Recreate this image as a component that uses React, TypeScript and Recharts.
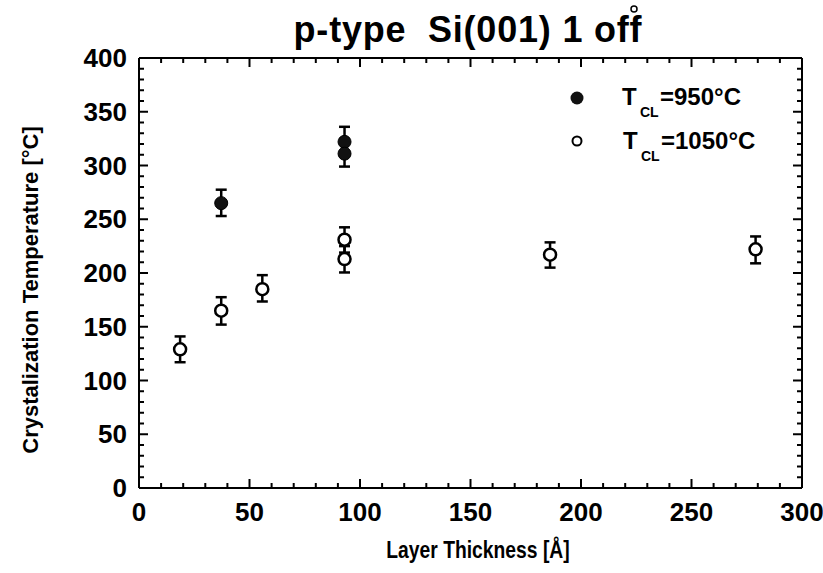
import { ScatterChart, Scatter, XAxis, YAxis, ErrorBar } from 'recharts';

// T_CL = 950 C (filled circles)
const thickness950 = [37.2, 93, 93];
const temp950 = [265, 322, 311];
const errLow950 = [12, 13, 12];
const errHigh950 = [12.5, 14, 13];

// T_CL = 1050 C (open circles)
const thickness1050 = [18.6, 37.2, 55.8, 93, 93, 186, 279];
const temp1050 = [129, 165, 185, 231, 213, 217, 222];
const errLow1050 = [12, 13, 11.5, 12, 12.5, 12, 13];
const errHigh1050 = [12, 12.5, 13, 11.5, 12, 11.5, 12];

const xTicks = Array.from({ length: 31 }, (_, i) => i * 10);
const yTicks = Array.from({ length: 41 }, (_, i) => i * 10);
const xMajor = [0, 50, 100, 150, 200, 250, 300];
const yMajor = [0, 50, 100, 150, 200, 250, 300, 350, 400];

const data950 = thickness950.map((x, i) => ({ x, y: temp950[i], err: [errLow950[i], errHigh950[i]] }));
const data1050 = thickness1050.map((x, i) => ({ x, y: temp1050[i], err: [errLow1050[i], errHigh1050[i]] }));

const FONT = '"Liberation Sans", Arial, Helvetica, sans-serif';
const tickFont = { fontFamily: FONT, fontWeight: 700, fontSize: 26, fill: '#000' };
const axisLine = { stroke: '#000', strokeWidth: 2 };

const BottomTick = (props: any) => {
  const { x, y, payload } = props;
  const major = xMajor.includes(payload.value);
  return (
    <g>
      <line x1={x} x2={x} y1={y} y2={y - (major ? 9 : 5)} stroke="#000" strokeWidth={2} />
      {major && <text x={x} y={y + 33} textAnchor="middle" style={tickFont}>{payload.value}</text>}
    </g>
  );
};

const TopTick = (props: any) => {
  const { x, y, payload } = props;
  const major = xMajor.includes(payload.value);
  return <line x1={x} x2={x} y1={y} y2={y + (major ? 9 : 5)} stroke="#000" strokeWidth={2} />;
};

const LeftTick = (props: any) => {
  const { x, y, payload } = props;
  const major = yMajor.includes(payload.value);
  return (
    <g>
      <line x1={x} x2={x + (major ? 9 : 5)} y1={y} y2={y} stroke="#000" strokeWidth={2} />
      {major && <text x={x - 12} y={y + 9} textAnchor="end" style={tickFont}>{payload.value}</text>}
    </g>
  );
};

const RightTick = (props: any) => {
  const { x, y, payload } = props;
  const major = yMajor.includes(payload.value);
  return <line x1={x} x2={x - (major ? 9 : 5)} y1={y} y2={y} stroke="#000" strokeWidth={2} />;
};

const FilledDot = (props: any) => <circle cx={props.cx} cy={props.cy} r={6.5} fill="#111" stroke="#000" strokeWidth={1} />;
const OpenDot = (props: any) => <circle cx={props.cx} cy={props.cy} r={6} fill="#fff" stroke="#000" strokeWidth={2.5} />;

export default function App() {
  return (
    <div style={{ position: 'absolute', left: 0, top: 0, width: 823, height: 573, background: '#fff' }}>
      <ScatterChart width={823} height={573} margin={{ top: 57, right: 20, bottom: 0, left: 0 }}>
        <XAxis xAxisId="b" type="number" dataKey="x" domain={[0, 300]} ticks={xTicks} interval={0}
          height={85} tickSize={0} tickMargin={0} tickLine={false} axisLine={axisLine} tick={<BottomTick />} allowDataOverflow />
        <XAxis xAxisId="t" orientation="top" type="number" dataKey="x" domain={[0, 300]} ticks={xTicks} interval={0}
          height={1} tickSize={0} tickMargin={0} tickLine={false} axisLine={axisLine} tick={<TopTick />} allowDataOverflow />
        <YAxis yAxisId="l" type="number" dataKey="y" domain={[0, 400]} ticks={yTicks} interval={0}
          width={139} tickSize={0} tickMargin={0} tickLine={false} axisLine={axisLine} tick={<LeftTick />} allowDataOverflow />
        <YAxis yAxisId="r" orientation="right" type="number" dataKey="y" domain={[0, 400]} ticks={yTicks} interval={0}
          width={1} tickSize={0} tickMargin={0} tickLine={false} axisLine={axisLine} tick={<RightTick />} allowDataOverflow />
        <Scatter name="TCL=1050°C" data={data1050} xAxisId="b" yAxisId="l" shape={<OpenDot />} isAnimationActive={false}>
          <ErrorBar dataKey="err" direction="y" width={5.5} strokeWidth={2.5} stroke="#000" />
        </Scatter>
        <Scatter name="TCL=950°C" data={data950} xAxisId="b" yAxisId="l" shape={<FilledDot />} isAnimationActive={false}>
          <ErrorBar dataKey="err" direction="y" width={5.5} strokeWidth={2.5} stroke="#000" />
        </Scatter>
      </ScatterChart>
      <svg width={823} height={573} style={{ position: 'absolute', left: 0, top: 0, pointerEvents: 'none' }}>
        <g style={{ fontFamily: FONT, fontWeight: 700, fill: '#000' }}>
          <text x={468} y={42} textAnchor="middle" fontSize={36} letterSpacing={0.8}>{'p-type\u00a0\u00a0Si(001) 1 off'}</text>
          <circle cx={634} cy={9} r={3} fill="none" stroke="#000" strokeWidth={1.5} />
          <text transform="translate(478,558) scale(0.84,1)" textAnchor="middle" fontSize={23}>Layer Thickness [Å]</text>
          <text transform="translate(38,290) rotate(-90)" textAnchor="middle" fontSize={22}>Crystalization Temperature [°C]</text>
          <circle cx={577} cy={98} r={6.5} fill="#111" />
          <text y={105} fontSize={24}>
            <tspan x={622}>T</tspan>
            <tspan x={640} y={117} fontSize={14}>CL</tspan>
            <tspan x={660} y={105}>=950°C</tspan>
          </text>
          <circle cx={577} cy={141} r={4.5} fill="#fff" stroke="#000" strokeWidth={2} />
          <text y={149} fontSize={24}>
            <tspan x={623}>T</tspan>
            <tspan x={641} y={161} fontSize={14}>CL</tspan>
            <tspan x={661} y={149}>=1050°C</tspan>
          </text>
        </g>
      </svg>
    </div>
  );
}
